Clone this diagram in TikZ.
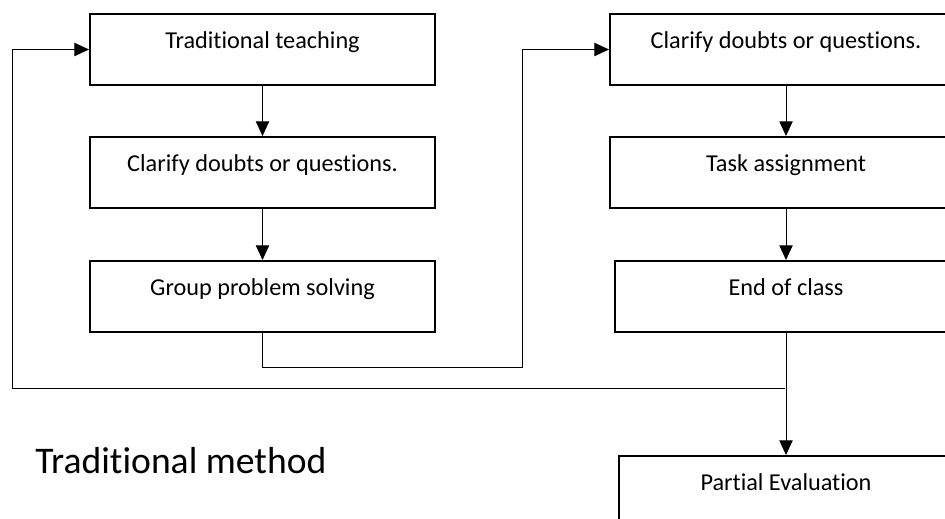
\documentclass[tikz,border=0pt]{standalone}
\usepackage{fontspec}
\setmainfont[Ligatures=NoCommon]{Carlito}
\usetikzlibrary{arrows.meta,positioning}
\begin{document}
\begin{tikzpicture}[x=0.75pt,y=-0.75pt,
  box/.style={draw,line width=1.5pt,anchor=north west,inner xsep=0pt,inner ysep=0pt,
    text height=25.5pt,text depth=27.75pt,minimum width=258.75pt,
    font=\fontsize{18.2}{21}\selectfont},
  link/.style={line width=0.75pt,-{Triangle[length=11pt,width=10pt]}}]
\clip (0,0) rectangle (945,518);
\node[box] (teach) at (89,13) {Traditional teaching};
\node[box] (doubtsL) at (89,136) {Clarify doubts or questions.};
\node[box] (group) at (89,260) {Group problem solving};
\node[box,minimum width=264pt] (doubtsR) at (609,13) {Clarify doubts or questions.};
\node[box,minimum width=264pt] (task) at (609,136) {Task assignment};
\node[box,minimum width=256.5pt] (endcl) at (614,260) {End of class};
\node[box,minimum width=250.5pt] (partial) at (618,455) {Partial Evaluation};
\node[anchor=base west,inner sep=0pt,font=\fontsize{28.2}{33}\selectfont] (title) at (35,473) {Traditional method};
\coordinate (bend) at (522,367);
\coordinate (fb) at (785,388);
\coordinate (back) at (12,388);
\draw[link](teach)--(doubtsL);
\draw[link](doubtsL)--(group);
\draw[link](group.south)|-(bend)|-(doubtsR.west);
\draw[link](doubtsR)--(task);
\draw[link](task)--(endcl);
\draw[link](endcl)--(partial);
\draw[link](fb)--(back)|-(teach.west);
\end{tikzpicture}
\end{document}
